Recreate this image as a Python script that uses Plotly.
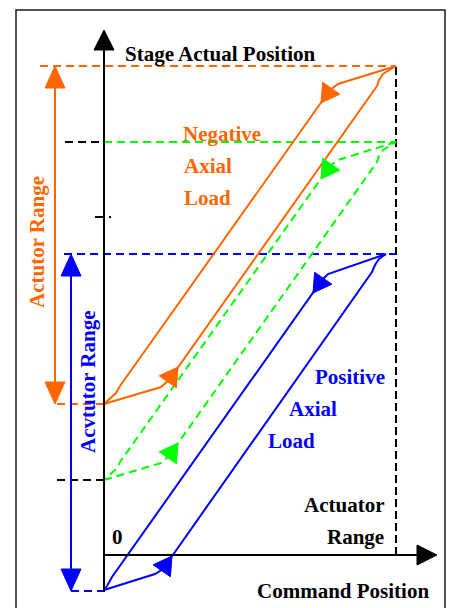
import math
import plotly.graph_objects as go

ORANGE = "#FF6600"
GREEN = "#00FF00"
BLUE = "#0000FF"
BLACK = "#000000"
FONT = "Liberation Serif, Times New Roman, serif"

# Diagram units: x = command position, y = stage actual position (origin = axes zero)
actuator_range = 292

orange_up_cmd = [0, 57, 65, 273, 275, 279, 292]
orange_up_pos = [151, 168, 175, 469, 475, 481, 489]
orange_down_cmd = [292, 234, 226, 16, 12, 3, 0]
orange_down_pos = [489, 471, 465, 169, 162, 154, 151]

green_up_cmd = [0, 57, 65, 273, 275, 279, 292]
green_up_pos = [75, 92, 99, 393, 399, 405, 413]
green_down_cmd = [292, 234, 226, 16, 12, 3, 0]
green_down_pos = [413, 395, 389, 93, 86, 78, 75]

blue_up_cmd = [0, 51, 59, 268, 271, 275, 282]
blue_up_pos = [-35, -19, -14, 283, 290, 296, 301]
blue_down_cmd = [282, 224, 218, 8, 3, 0]
blue_down_pos = [301, 281, 275, -22, -31, -35]

# loop direction arrows: tip and a point behind the tip on the same line
loop_arrow_tips = [(74, 188), (217, 452), (74, 112), (217, 376), (68, -1), (209, 262)]
loop_arrow_tails = [(65, 175), (226, 465), (65, 99), (226, 389), (59, -14), (218, 275)]
loop_arrow_colors = [ORANGE, ORANGE, GREEN, GREEN, BLUE, BLUE]

# level lines (y, x_start, x_end, colour)
level_lines = [
    (489, -64, 292, ORANGE),
    (413, -39, 0, BLACK),
    (413, 0, 292, GREEN),
    (301, -40, 292, BLUE),
    (151, -47, 0, ORANGE),
    (75, -47, 0, BLACK),
    (-36, -33, 0, BLUE),
]

# range double arrows (x, y_bottom, y_top, colour)
range_arrows = [(-49, 151, 489, ORANGE), (-33, -36, 301, BLUE)]

labels = [
    ("Stage Actual Position", 19, 501, "left", BLACK),
    ("Negative", 77, 421, "left", ORANGE),
    ("Axial", 77.5, 389, "left", ORANGE),
    ("Load", 77.5, 357.5, "left", ORANGE),
    ("Positive", 209, 178, "left", BLUE),
    ("Axial", 182.7, 146, "left", BLUE),
    ("Load", 162, 114.5, "left", BLUE),
    ("Actuator", 282, 50, "right", BLACK),
    ("Range", 282, 18.5, "right", BLACK),
    ("Command Position", 151, -36, "left", BLACK),
    ("0", 13, 18.5, "center", BLACK),
]
rot_labels = [("Actutor Range", -67, 313, ORANGE), ("Acvtutor Range", -16, 173, BLUE)]

fig = go.Figure()


def line(xs, ys, color, width=2, dash=None):
    fig.add_trace(go.Scatter(x=xs, y=ys, mode="lines",
                             line=dict(color=color, width=width, dash=dash),
                             hoverinfo="skip", showlegend=False))


def head(tip, tail, color, length=18, width=21):
    dx, dy = tip[0] - tail[0], tip[1] - tail[1]
    n = math.hypot(dx, dy)
    ux, uy = dx / n, dy / n
    bx, by = tip[0] - length * ux, tip[1] - length * uy
    px, py = -uy * width / 2, ux * width / 2
    fig.add_trace(go.Scatter(x=[tip[0], bx + px, bx - px, tip[0]],
                             y=[tip[1], by + py, by - py, tip[1]],
                             mode="lines", fill="toself", fillcolor=color,
                             line=dict(color=color, width=1),
                             hoverinfo="skip", showlegend=False))


DASH = "8px,5px"

# level dashed lines
for y, x0, x1, c in level_lines:
    line([x0, x1], [y, y], c, 2, DASH)
# actuator range vertical
line([actuator_range, actuator_range], [0, 489], BLACK, 2, "8px,4px")

# loops
line(orange_up_cmd, orange_up_pos, ORANGE, 2)
line(orange_down_cmd, orange_down_pos, ORANGE, 2)
line(green_up_cmd, green_up_pos, GREEN, 2, DASH)
line(green_down_cmd, green_down_pos, GREEN, 2, DASH)
line(blue_up_cmd, blue_up_pos, BLUE, 2)
line(blue_down_cmd, blue_down_pos, BLUE, 2)
for t, s, c in zip(loop_arrow_tips, loop_arrow_tails, loop_arrow_colors):
    head(t, s, c)

# range double arrows
for x, y0, y1, c in range_arrows:
    line([x, x], [y0 + 20, y1 - 20], c, 2)
    head((x, y1), (x, y0), c, 22, 20)
    head((x, y0), (x, y1), c, 22, 20)

# axes
line([0, 0], [-37, 506], BLACK, 2)
head((0, 525), (0, 0), BLACK, 20, 20)
line([0, 315], [0, 0], BLACK, 2)
head((333, 0), (0, 0), BLACK, 20, 20)
# small tick
line([-9, 0], [338, 338], BLACK, 2)
line([5, 7], [338, 338], BLACK, 2)

for text, x, y, anchor, c in labels:
    fig.add_annotation(x=x, y=y, text=text, showarrow=False, xanchor=anchor,
                       yanchor="middle",
                       font=dict(family=FONT, size=21, color=c, weight="bold"))
for text, x, y, c in rot_labels:
    fig.add_annotation(x=x, y=y, text=text, showarrow=False, textangle=-90,
                       xanchor="center", yanchor="middle",
                       font=dict(family=FONT, size=21, color=c, weight="bold"))

fig.add_shape(type="rect", x0=-88, x1=341, y0=-80, y1=545,
              line=dict(color="#1a1a1a", width=1.5), layer="below")

# the page body adds an 8px margin, so the figure is 8px smaller and offset
fig.update_layout(
    width=447, height=600, margin=dict(l=0, r=0, t=0, b=0),
    paper_bgcolor="white", plot_bgcolor="white", showlegend=False,
    xaxis=dict(visible=False, range=[-96, 351], fixedrange=True),
    yaxis=dict(visible=False, range=[-53, 547], fixedrange=True),
)

fig.write_html("out.html")
